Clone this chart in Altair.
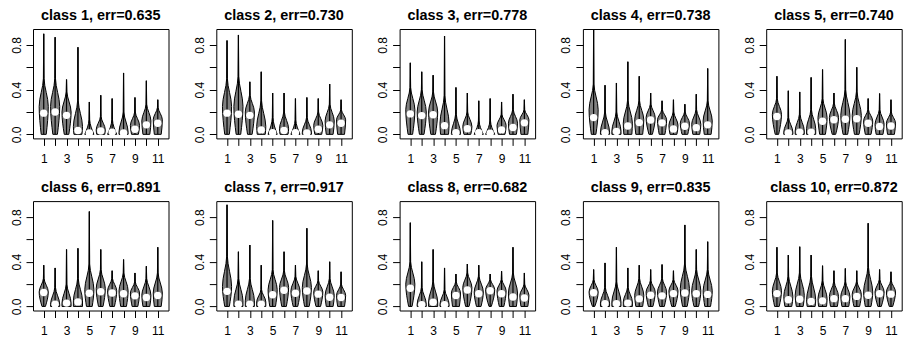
import altair as alt
import pandas as pd

titles = ["class 1, err=0.635", "class 2, err=0.730", "class 3, err=0.778",
          "class 4, err=0.738", "class 5, err=0.740", "class 6, err=0.891",
          "class 7, err=0.917", "class 8, err=0.682", "class 9, err=0.835",
          "class 10, err=0.872"]

positions = list(range(1, 12))

# top of each violin (sample maximum)
maxima = [
    [0.90, 0.87, 0.49, 0.78, 0.29, 0.35, 0.32, 0.55, 0.33, 0.48, 0.31],
    [0.84, 0.89, 0.47, 0.56, 0.37, 0.37, 0.32, 0.33, 0.32, 0.45, 0.31],
    [0.64, 0.56, 0.53, 0.88, 0.42, 0.37, 0.30, 0.32, 0.29, 0.36, 0.31],
    [0.97, 0.44, 0.46, 0.65, 0.52, 0.37, 0.30, 0.31, 0.27, 0.36, 0.59],
    [0.52, 0.39, 0.38, 0.51, 0.58, 0.37, 0.85, 0.60, 0.32, 0.365, 0.31],
    [0.37, 0.345, 0.51, 0.52, 0.85, 0.51, 0.32, 0.42, 0.30, 0.36, 0.53],
    [0.91, 0.49, 0.55, 0.37, 0.77, 0.49, 0.37, 0.70, 0.32, 0.40, 0.31],
    [0.75, 0.40, 0.51, 0.345, 0.29, 0.38, 0.37, 0.29, 0.315, 0.53, 0.30],
    [0.33, 0.39, 0.53, 0.345, 0.37, 0.33, 0.375, 0.32, 0.73, 0.51, 0.58],
    [0.53, 0.46, 0.535, 0.46, 0.365, 0.32, 0.34, 0.32, 0.745, 0.33, 0.31],
]

# median (white dot)
medians = [
    [0.19, 0.20, 0.17, 0.035, 0.012, 0.03, 0.02, 0.012, 0.045, 0.085, 0.10],
    [0.19, 0.18, 0.17, 0.04, 0.015, 0.035, 0.015, 0.012, 0.045, 0.085, 0.10],
    [0.183, 0.168, 0.175, 0.078, 0.015, 0.05, 0.015, 0.01, 0.04, 0.062, 0.103],
    [0.15, 0.015, 0.025, 0.075, 0.105, 0.128, 0.103, 0.048, 0.072, 0.06, 0.085],
    [0.16, 0.012, 0.02, 0.02, 0.118, 0.13, 0.135, 0.14, 0.10, 0.07, 0.075],
    [0.125, 0.02, 0.03, 0.04, 0.118, 0.132, 0.12, 0.113, 0.095, 0.08, 0.098],
    [0.135, 0.02, 0.02, 0.02, 0.105, 0.145, 0.118, 0.138, 0.11, 0.083, 0.08],
    [0.163, 0.015, 0.038, 0.015, 0.098, 0.148, 0.113, 0.14, 0.113, 0.085, 0.075],
    [0.122, 0.025, 0.025, 0.03, 0.068, 0.10, 0.095, 0.115, 0.12, 0.113, 0.108],
    [0.115, 0.06, 0.065, 0.045, 0.05, 0.07, 0.07, 0.09, 0.10, 0.113, 0.11],
]

# height where each violin is widest
peak_y = [
    [0.25, 0.25, 0.20, 0.07, 0.0, 0.04, 0.0, 0.02, 0.08, 0.12, 0.13],
    [0.25, 0.25, 0.20, 0.07, 0.0, 0.05, 0.0, 0.02, 0.08, 0.12, 0.13],
    [0.22, 0.20, 0.20, 0.10, 0.01, 0.07, 0.0, 0.0, 0.08, 0.10, 0.13],
    [0.22, 0.02, 0.03, 0.10, 0.13, 0.15, 0.13, 0.08, 0.10, 0.09, 0.12],
    [0.18, 0.02, 0.03, 0.05, 0.15, 0.15, 0.17, 0.17, 0.12, 0.09, 0.10],
    [0.13, 0.02, 0.03, 0.05, 0.15, 0.16, 0.14, 0.14, 0.12, 0.10, 0.12],
    [0.18, 0.05, 0.05, 0.04, 0.15, 0.17, 0.14, 0.17, 0.13, 0.10, 0.10],
    [0.20, 0.02, 0.04, 0.02, 0.12, 0.17, 0.13, 0.15, 0.14, 0.12, 0.10],
    [0.13, 0.03, 0.04, 0.04, 0.10, 0.13, 0.13, 0.14, 0.16, 0.14, 0.14],
    [0.14, 0.09, 0.10, 0.06, 0.07, 0.09, 0.09, 0.11, 0.13, 0.13, 0.13],
]

# height where the body narrows into the thin tail
shoulder_y = [
    [0.50, 0.50, 0.38, 0.30, 0.13, 0.16, 0.13, 0.20, 0.20, 0.27, 0.24],
    [0.50, 0.52, 0.35, 0.30, 0.15, 0.20, 0.13, 0.15, 0.20, 0.27, 0.22],
    [0.42, 0.40, 0.38, 0.35, 0.18, 0.20, 0.12, 0.12, 0.18, 0.22, 0.22],
    [0.45, 0.20, 0.20, 0.30, 0.30, 0.27, 0.22, 0.20, 0.20, 0.22, 0.30],
    [0.32, 0.15, 0.18, 0.22, 0.32, 0.28, 0.40, 0.38, 0.22, 0.22, 0.20],
    [0.25, 0.17, 0.20, 0.25, 0.38, 0.33, 0.25, 0.30, 0.22, 0.25, 0.30],
    [0.45, 0.25, 0.25, 0.15, 0.33, 0.32, 0.27, 0.38, 0.23, 0.25, 0.20],
    [0.40, 0.17, 0.22, 0.15, 0.22, 0.30, 0.27, 0.24, 0.24, 0.30, 0.20],
    [0.24, 0.17, 0.22, 0.17, 0.25, 0.23, 0.25, 0.24, 0.38, 0.33, 0.33],
    [0.30, 0.27, 0.30, 0.27, 0.23, 0.22, 0.22, 0.22, 0.35, 0.24, 0.23],
]

# half-width of the violin at y = 0
bottom_w = [
    [0.22, 0.20, 0.20, 0.35, 0.40, 0.35, 0.40, 0.40, 0.30, 0.30, 0.30],
    [0.20, 0.20, 0.20, 0.35, 0.40, 0.35, 0.40, 0.40, 0.30, 0.30, 0.30],
    [0.20, 0.20, 0.20, 0.35, 0.40, 0.30, 0.40, 0.40, 0.30, 0.30, 0.30],
    [0.20, 0.40, 0.40, 0.35, 0.30, 0.15, 0.25, 0.30, 0.25, 0.30, 0.30],
    [0.15, 0.40, 0.40, 0.40, 0.25, 0.15, 0.20, 0.20, 0.25, 0.30, 0.30],
    [0.15, 0.40, 0.40, 0.40, 0.25, 0.20, 0.20, 0.25, 0.25, 0.30, 0.30],
    [0.20, 0.40, 0.40, 0.40, 0.25, 0.20, 0.20, 0.20, 0.20, 0.30, 0.30],
    [0.15, 0.40, 0.40, 0.40, 0.30, 0.15, 0.20, 0.10, 0.20, 0.30, 0.30],
    [0.10, 0.40, 0.40, 0.40, 0.30, 0.20, 0.20, 0.15, 0.20, 0.20, 0.25],
    [0.20, 0.30, 0.30, 0.35, 0.35, 0.30, 0.30, 0.25, 0.25, 0.15, 0.15],
]

MAX_HALF = 0.4     # vioplot: widest point of each violin = 0.4 units
TAIL_HALF = 0.03   # thin tail

FONT = "Liberation Sans"
PLOT_W = 135.5
PLOT_H = 109.4

x_scale = alt.Scale(domain=[0.06, 11.94], nice=False, zero=False)
y_scale = alt.Scale(domain=[-0.0363, 0.9433], nice=False, zero=False)

x_axis = alt.Axis(values=positions, title=None, grid=False, domain=False,
                  labelExpr="datum.value % 2 == 1 ? datum.label : ''",
                  tickSize=7, labelPadding=8, labelFontSize=12, labelFont=FONT,
                  labelColor="black", tickColor="black", labelFlush=False,
                  labelOverlap=False)
y_axis = alt.Axis(values=[0, 0.2, 0.4, 0.6, 0.8], title=None, grid=False, domain=False,
                  labelExpr="(abs(datum.value-0.2)<0.01 || abs(datum.value-0.6)<0.01) ? '' : format(datum.value, '.1f')",
                  tickSize=7, labelPadding=6, labelFontSize=12, labelFont=FONT,
                  labelAngle=270, labelAlign="center", labelBaseline="alphabetic",
                  labelColor="black", tickColor="black", labelOverlap=False)


def panel(c):
    rows = []
    boxes = []
    for i, pos in enumerate(positions):
        knots = []
        if peak_y[c][i] > 0.005:
            knots.append((0.0, bottom_w[c][i]))
            knots.append((peak_y[c][i], MAX_HALF))
        else:
            knots.append((0.0, MAX_HALF))
        knots.append((shoulder_y[c][i], TAIL_HALF))
        knots.append((maxima[c][i], 0.0))
        for y, w in knots:
            rows.append({"v": pos, "y": y, "xl": pos - w, "xr": pos + w})
        boxes.append({"v": pos, "lo": 0.0, "hi": maxima[c][i], "med": medians[c][i]})
    kdf = pd.DataFrame(rows)
    bdf = pd.DataFrame(boxes)

    area = alt.Chart(kdf).mark_area(
        orient="horizontal", interpolate="monotone", fill="#808080",
        stroke="black", strokeWidth=1, clip=True
    ).encode(
        y=alt.Y("y:Q", scale=y_scale, axis=y_axis),
        x=alt.X("xl:Q", scale=x_scale, axis=x_axis, stack=None),
        x2="xr:Q",
        detail="v:N",
    )
    rule = alt.Chart(bdf).mark_rule(color="black", strokeWidth=1.2, clip=True).encode(
        x=alt.X("v:Q", scale=x_scale, axis=x_axis),
        y=alt.Y("lo:Q", scale=y_scale, axis=y_axis),
        y2="hi:Q",
    )
    dot = alt.Chart(bdf).mark_point(
        filled=True, shape="circle", size=55, color="white", opacity=1
    ).encode(
        x=alt.X("v:Q", scale=x_scale, axis=x_axis),
        y=alt.Y("med:Q", scale=y_scale, axis=y_axis),
    )
    return alt.layer(area, rule, dot).properties(
        width=PLOT_W, height=PLOT_H,
        title=alt.TitleParams(titles[c], font=FONT, fontSize=14.4, fontWeight="bold",
                              anchor="middle", color="black", offset=-5.5,
                              baseline="alphabetic"),
    )


panels = [panel(c) for c in range(10)]

chart = alt.concat(*panels, columns=5, spacing={"row": 62.1, "column": 47.3},
                   bounds="flush").properties(
    padding={"left": 1, "top": -1, "right": 0, "bottom": 0},
    background="white",
).configure_view(stroke="black", strokeWidth=1)

chart.save("out.html", embed_options={"renderer": "svg", "actions": False})
